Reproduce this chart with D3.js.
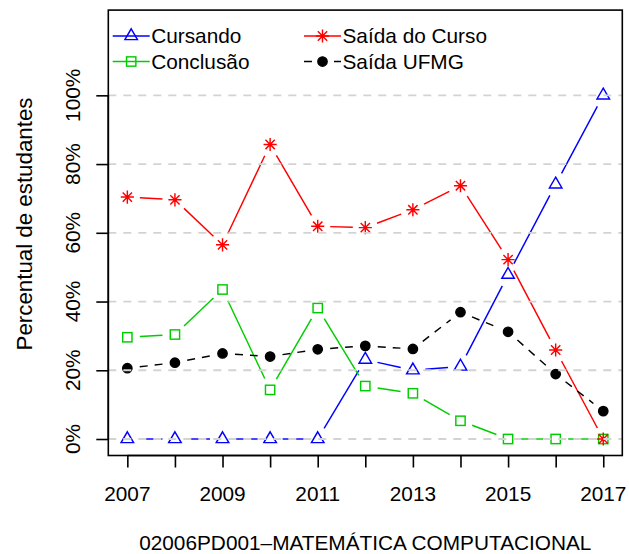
<!DOCTYPE html>
<html>
<head>
<meta charset="utf-8">
<script src="https://cdn.jsdelivr.net/npm/d3@7"></script>
<style>
  html, body { margin: 0; padding: 0; background: #fff; }
  svg { display: block; }
  text { font-family: "Liberation Sans", Arial, Helvetica, sans-serif; fill: #000; }
</style>
</head>
<body>
<svg id="chart" width="629" height="554"></svg>
<script>
// Share of students per entry year, by situation
const years = [2007, 2008, 2009, 2010, 2011, 2012, 2013, 2014, 2015, 2016, 2017];
const cursando   = [0, 0, 0, 0, 0, 23.1, 20.0, 21.1, 47.8, 74.1, 100];
const conclusao  = [29.6, 30.4, 43.5, 14.3, 38.1, 15.4, 13.3, 5.3, 0, 0, 0];
const saidaCurso = [70.4, 69.6, 56.5, 85.7, 61.9, 61.5, 66.7, 73.7, 52.2, 25.9, 0];
const saidaUFMG  = [20.6, 22.2, 24.9, 24.0, 26.1, 27.1, 26.2, 36.9, 31.2, 18.9, 8.1];

const yTicks = [0, 20, 40, 60, 80, 100];
const xTickLabels = [2007, 2009, 2011, 2013, 2015, 2017];
const seriesNames = ["Cursando", "Conclusão", "Saída do Curso", "Saída UFMG"];
const title = "02006PD001\u2013MATEMÁTICA COMPUTACIONAL";
const yTitle = "Percentual de estudantes";

const series = [
  { name: seriesNames[0], values: cursando,   color: "#0000FF", shape: "triangle", dash: null },
  { name: seriesNames[1], values: conclusao,  color: "#00CD00", shape: "square",   dash: null },
  { name: seriesNames[2], values: saidaCurso, color: "#FF0000", shape: "asterisk", dash: null },
  { name: seriesNames[3], values: saidaUFMG,  color: "#000000", shape: "dot",      dash: "8,7" }
];

const svg = d3.select("#chart");
const plot = { left: 108.3, right: 622.3, top: 10.1, bottom: 455.5 };
const FS = 20.8;    // text size
const FS_LAB = 22.3; // y axis title size
const LW = 1.45;    // line width
const GAP = 12.5;   // gap left around each point on the connecting lines

const x = d3.scaleLinear().domain([2007 - 0.4, 2017 + 0.4]).range([plot.left, plot.right]);
const y = d3.scaleLinear().domain([-4.8, 124.8]).range([plot.bottom, plot.top]);

// marker shapes (plotting symbols)
const R0 = 4.65;
function marker(g, shape, color, cx, cy, s = 1) {
  const r = R0 * s;
  if (shape === "triangle") {
    const top = 1.5551 * r, yc = 0.7776 * r, xc = 1.3468 * r;
    g.append("path")
      .attr("d", `M${cx},${cy - top}L${cx + xc},${cy + yc}L${cx - xc},${cy + yc}Z`)
      .attr("fill", "none").attr("stroke", color).attr("stroke-width", LW);
  } else if (shape === "square") {
    g.append("rect").attr("x", cx - r).attr("y", cy - r).attr("width", 2 * r).attr("height", 2 * r)
      .attr("fill", "none").attr("stroke", color).attr("stroke-width", LW);
  } else if (shape === "asterisk") {
    const d = Math.SQRT2 * r;
    g.append("path")
      .attr("d", `M${cx - r},${cy - r}L${cx + r},${cy + r}M${cx - r},${cy + r}L${cx + r},${cy - r}` +
                 `M${cx - d},${cy}L${cx + d},${cy}M${cx},${cy - d}L${cx},${cy + d}`)
      .attr("fill", "none").attr("stroke", color).attr("stroke-width", LW);
  } else if (shape === "dot") {
    g.append("circle").attr("cx", cx).attr("cy", cy).attr("r", r)
      .attr("fill", color).attr("stroke", color).attr("stroke-width", LW);
  }
}

// series: segments with gaps around points, then the points
const dataG = svg.append("g");
series.forEach(s => {
  const g = dataG.append("g");
  const pts = years.map((yr, i) => [x(yr), y(s.values[i])]);
  for (let i = 0; i < pts.length - 1; i++) {
    const [x0, y0] = pts[i], [x1, y1] = pts[i + 1];
    const len = Math.hypot(x1 - x0, y1 - y0);
    if (len <= 2 * GAP) continue;
    const f = GAP / len;
    g.append("line")
      .attr("x1", x0 + f * (x1 - x0)).attr("y1", y0 + f * (y1 - y0))
      .attr("x2", x1 - f * (x1 - x0)).attr("y2", y1 - f * (y1 - y0))
      .attr("stroke", s.color).attr("stroke-width", LW)
      .attr("stroke-dasharray", s.dash);
  }
  pts.forEach(([px, py]) => marker(g, s.shape, s.color, px, py));
});

// horizontal reference lines, drawn over the series
svg.append("g").selectAll("line").data(yTicks).join("line")
  .attr("x1", plot.left).attr("x2", plot.right)
  .attr("y1", d => y(d)).attr("y2", d => y(d))
  .attr("stroke", "#D3D3D3").attr("stroke-width", 1.8)
  .attr("stroke-dasharray", "8,7");

// frame
svg.append("rect")
  .attr("x", plot.left).attr("y", plot.top)
  .attr("width", plot.right - plot.left).attr("height", plot.bottom - plot.top)
  .attr("fill", "none").attr("stroke", "#000").attr("stroke-width", 1.6);

// x axis
const xAxis = d3.axisBottom(x).tickValues(years).tickSize(12).tickPadding(0).tickFormat("");
const xg = svg.append("g").attr("transform", `translate(0,${plot.bottom})`).call(xAxis);
xg.select(".domain").attr("d", `M${x(2007)},0H${x(2017)}`).attr("stroke-width", 1.6);
xg.selectAll(".tick line").attr("stroke-width", 1.6);
svg.append("g").selectAll("text").data(xTickLabels).join("text")
  .attr("x", d => x(d)).attr("y", 500.5)
  .attr("text-anchor", "middle").attr("font-size", FS)
  .text(d => d);

// y axis
const yAxis = d3.axisLeft(y).tickValues(yTicks).tickSize(12).tickFormat("");
const yg = svg.append("g").attr("transform", `translate(${plot.left},0)`).call(yAxis);
yg.select(".domain").attr("d", `M0,${y(0)}V${y(100)}`).attr("stroke-width", 1.6);
yg.selectAll(".tick line").attr("stroke-width", 1.6);
svg.append("g").selectAll("text").data(yTicks).join("text")
  .attr("transform", d => `translate(80,${y(d)}) rotate(-90)`)
  .attr("text-anchor", "middle").attr("font-size", FS)
  .text(d => d + "%");

// axis titles
svg.append("text")
  .attr("transform", `translate(32,224) rotate(-90)`)
  .attr("text-anchor", "middle").attr("font-size", FS_LAB)
  .text(yTitle);
svg.append("text")
  .attr("x", (plot.left + plot.right) / 2).attr("y", 550)
  .attr("text-anchor", "middle").attr("font-size", FS)
  .text(title);

// legend, filled column by column
const legG = svg.append("g");
const colX = [112.7, 304];
const rowY = [36, 61.5];
const keyLen = 37;
series.forEach((s, i) => {
  const cx0 = colX[Math.floor(i / 2)], cy = rowY[i % 2];
  legG.append("line")
    .attr("x1", cx0).attr("x2", cx0 + keyLen).attr("y1", cy).attr("y2", cy)
    .attr("stroke", s.color).attr("stroke-width", LW)
    .attr("stroke-dasharray", s.dash);
  marker(legG, s.shape, s.color, cx0 + keyLen / 2, cy, 1);
  legG.append("text")
    .attr("x", cx0 + keyLen + 1.5).attr("y", cy + 7.3)
    .attr("font-size", FS)
    .text(s.name);
});
</script>
</body>
</html>
